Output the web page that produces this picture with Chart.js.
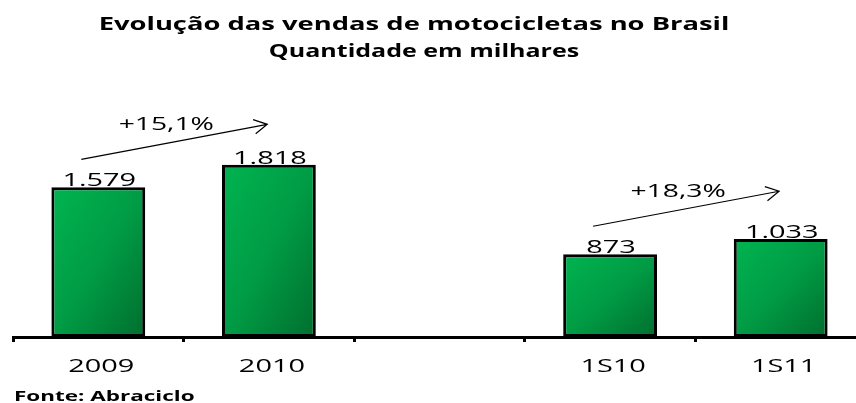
<!DOCTYPE html>
<html>
<head>
<meta charset="utf-8">
<script src="https://cdn.jsdelivr.net/npm/chart.js@4.4.1/dist/chart.umd.min.js"></script>
<style>
  html, body { margin: 0; padding: 0; background: #fff; overflow: hidden; }
  #wrap { position: relative; width: 866px; height: 403px; }
</style>
</head>
<body>
<div id="wrap"><canvas id="chart"></canvas></div>
<script>
const categories = ['2009', '2010', '', '1S10', '1S11'];
const sales = [1579, 1818, null, 873, 1033];
const growthPairs = [[0, 1], [3, 4]];
const growthLabels = ['+15,1%', '+18,3%'];
const titleLines = ['Evolução das vendas de motocicletas no Brasil', 'Quantidade em milhares'];
const sourceNote = 'Fonte: Abraciclo';
const yMax = 2500;

// the reference text is wide, as if the picture was stretched sideways
const STRETCH = 1.52;
const FONT = "'Open Sans', sans-serif";

const fmt = (v) => String(v).replace(/\B(?=(\d{3})+(?!\d))/g, '.');

function wideText(ctx, text, x, y, font, align, stretch = STRETCH) {
  ctx.save();
  ctx.font = font;
  ctx.fillStyle = '#000';
  ctx.textBaseline = 'alphabetic';
  ctx.textAlign = 'left';
  const w = ctx.measureText(text).width * stretch;
  const left = align === 'center' ? x - w / 2 : x;
  ctx.translate(left, y);
  ctx.scale(stretch, 1);
  ctx.fillText(text, 0, 0);
  ctx.restore();
}

// excel-like diagonal fill: light top-left, dark bottom-right
function barFill(context) {
  const chart = context.chart;
  const x = chart.scales.x, y = chart.scales.y;
  if (!x || !y || context.raw == null) return '#00a04a';
  const cx = x.getPixelForValue(context.dataIndex);
  const half = (x.width / categories.length) * 0.55 / 2;
  const top = y.getPixelForValue(context.raw);
  const base = y.getPixelForValue(0);
  if (![cx, half, top, base].every(Number.isFinite) || half <= 0) return '#00a04a';
  const w = half * 2, h = Math.max(base - top, 1);
  const t = 2 * w * h / (w * w + h * h);
  const g = chart.ctx.createLinearGradient(cx - half, top, cx - half + h * t, top + w * t);
  g.addColorStop(0, '#00b450');
  g.addColorStop(0.5, '#009c45');
  g.addColorStop(1, '#006e2e');
  return g;
}

const textPlugin = {
  id: 'texts',
  afterDraw(chart) {
    const ctx = chart.ctx;
    const meta = chart.getDatasetMeta(0);
    const xs = chart.scales.x;

    wideText(ctx, titleLines[0], 414, 30, `bold 18px ${FONT}`, 'center');
    wideText(ctx, titleLines[1], 424, 57, `bold 18px ${FONT}`, 'center', 1.39);

    meta.data.forEach((bar, i) => {
      if (sales[i] == null) return;
      wideText(ctx, fmt(sales[i]), bar.x + 1, bar.y - 1, `19px ${FONT}`, 'center');
    });

    categories.forEach((c, i) => {
      if (!c) return;
      wideText(ctx, c, xs.getPixelForValue(i) + 3, 372, `19px ${FONT}`, 'center');
    });

    growthPairs.forEach(([a], k) => {
      const from = meta.data[a];
      const sx = from.x - 17, sy = from.y - 28;
      const ex = sx + 186, ey = sy - 35;
      ctx.save();
      ctx.strokeStyle = '#000';
      ctx.lineWidth = 1.2;
      ctx.beginPath();
      ctx.moveTo(sx, sy);
      ctx.lineTo(ex, ey);
      const ang = Math.atan2(ey - sy, ex - sx);
      const len = 15, spread = 0.5;
      ctx.moveTo(ex - len * Math.cos(ang - spread), ey - len * Math.sin(ang - spread));
      ctx.lineTo(ex, ey);
      ctx.lineTo(ex - len * Math.cos(ang + spread), ey - len * Math.sin(ang + spread));
      ctx.stroke();
      ctx.restore();
      const lx = sx + 85;
      const ly = sy + (ey - sy) * (85 / 186) - 13;
      wideText(ctx, growthLabels[k], lx, ly, `18px ${FONT}`, 'center', 1.57);
    });

    wideText(ctx, sourceNote, 14, 401, `bold 14.5px ${FONT}`, 'left', 1.55);
  }
};

new Chart(document.getElementById('chart'), {
  type: 'bar',
  data: {
    labels: categories,
    datasets: [{
      data: sales,
      backgroundColor: barFill,
      borderColor: '#000',
      borderWidth: 3,
      borderSkipped: false,
      categoryPercentage: 1,
      barPercentage: 0.55,
    }],
  },
  options: {
    responsive: true,
    maintainAspectRatio: false,
    animation: false,
    layout: { padding: { left: 13, right: 0, top: 100, bottom: 26 } },
    plugins: {
      legend: { display: false },
      tooltip: { enabled: false },
      title: { display: false },
    },
    scales: {
      x: {
        offset: true,
        border: { display: true, color: '#000', width: 3 },
        grid: { display: true, offset: true, drawOnChartArea: false, drawTicks: true, tickLength: 5, color: '#000', lineWidth: 3 },
        ticks: { display: false },
        afterFit: (s) => { s.height = 40; },
      },
      y: { display: false, min: 0, max: yMax },
    },
  },
  plugins: [textPlugin],
});
</script>
</body>
</html>
